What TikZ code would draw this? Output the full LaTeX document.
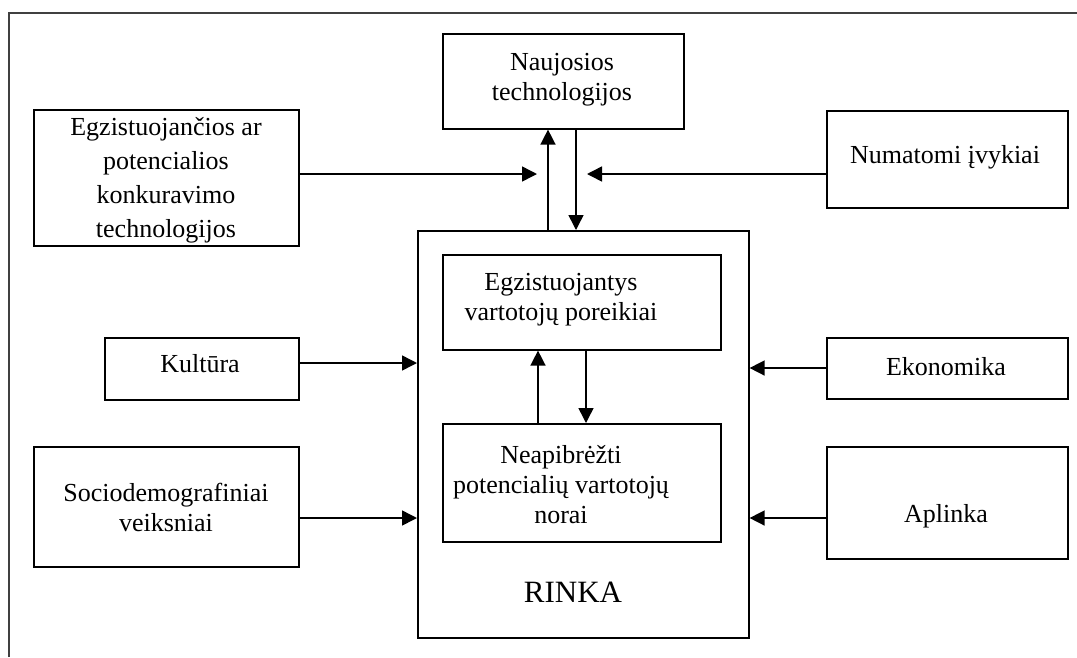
\documentclass[tikz,border=0pt]{standalone}
\usepackage{fontspec}
\setmainfont{Liberation Serif}
\usetikzlibrary{arrows.meta}
\begin{document}
\begin{tikzpicture}[x=1pt,y=-1pt,
  box/.style={draw,line width=1.6pt,rectangle,inner sep=0pt,anchor=north west},
  txt/.style={align=center,inner sep=0pt,font=\fontsize{26}{30}\selectfont},
  arr/.style={line width=1.5pt,-{Triangle[length=15pt,width=15pt]}}]
\useasboundingbox (0,0) rectangle (1077,657);
% outer frame (top and left edges)
\draw[line width=1.6pt,black!75] (9,657) -- (9,13) -- (1077,13);

% boxes
\node[box,minimum width=241pt,minimum height=95pt] (naujos) at (442,33) {};
\node[box,minimum width=265pt,minimum height=136pt] (konk) at (33,109) {};
\node[box,minimum width=241pt,minimum height=97pt] (numat) at (826,110) {};
\node[box,minimum width=331pt,minimum height=407pt] (rinka) at (417,230) {};
\node[box,minimum width=278pt,minimum height=95pt] (poreik) at (442,254) {};
\node[box,minimum width=278pt,minimum height=118pt] (norai) at (442,423) {};
\node[box,minimum width=194pt,minimum height=62pt] (kult) at (104,337) {};
\node[box,minimum width=265pt,minimum height=120pt] (socio) at (33,446) {};
\node[box,minimum width=241pt,minimum height=61pt] (ekon) at (826,337) {};
\node[box,minimum width=241pt,minimum height=112pt] (aplink) at (826,446) {};

% texts
\node[txt] (naujosT) at (562,80) {Naujosios\\technologijos};
\node[txt,font=\fontsize{26}{34}\selectfont] (konkT) at (166,180) {Egzistuojančios ar\\potencialios\\konkuravimo\\technologijos};
\node[txt] (numatT) at (945,157) {Numatomi įvykiai};
\node[txt] (poreikT) at (561,300) {Egzistuojantys\\vartotojų poreikiai};
\node[txt] (noraiT) at (561,485) {Neapibrėžti\\potencialių vartotojų\\norai};
\node[txt] (kultT) at (200,364) {Kultūra};
\node[txt] (socioT) at (166,507) {Sociodemografiniai\\veiksniai};
\node[txt] (ekonT) at (946,367) {Ekonomika};
\node[txt] (aplinkT) at (946,516) {Aplinka};
\node[txt,font=\fontsize{31}{36}\selectfont] (rinkaT) at (573,592) {RINKA};

% connector end points and lanes
\coordinate (inL) at (537,174);
\coordinate (inR) at (587,174);
\coordinate (upx) at (548,0);
\coordinate (dnx) at (576,0);
\coordinate (iupx) at (538,0);
\coordinate (idnx) at (586,0);

% connectors
\draw[arr] (konk.east |- inL) -- (inL);
\draw[arr] (numat.west |- inR) -- (inR);
\draw[arr] (upx |- rinka.north) -- (upx |- naujos.south);
\draw[arr] (dnx |- naujos.south) -- (dnx |- rinka.north);
\draw[arr] (iupx |- norai.north) -- (iupx |- poreik.south);
\draw[arr] (idnx |- poreik.south) -- (idnx |- norai.north);
\draw[arr] (kult.east |- 0,363) -- (rinka.west |- 0,363);
\draw[arr] (socio.east |- 0,518) -- (rinka.west |- 0,518);
\draw[arr] (ekon.west |- 0,368) -- (rinka.east |- 0,368);
\draw[arr] (aplink.west |- 0,518) -- (rinka.east |- 0,518);
\end{tikzpicture}
\end{document}
